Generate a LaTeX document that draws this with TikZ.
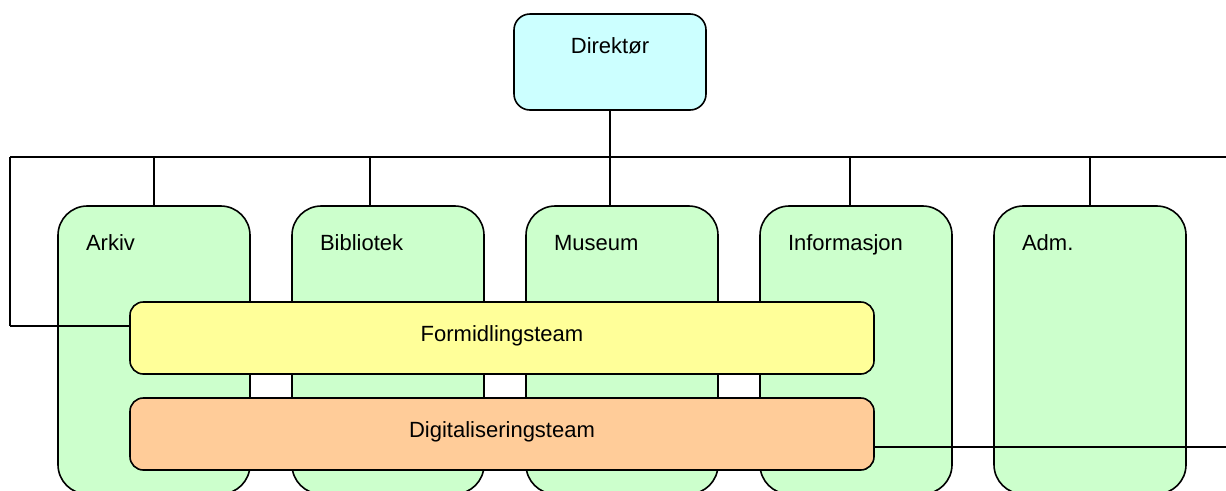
\documentclass[tikz,border=0pt]{standalone}
\usepackage{fontspec}
\setmainfont{Liberation Sans}
\usepackage{tikz}

\definecolor{dircol}{HTML}{CCFFFF}
\definecolor{deptcol}{HTML}{CCFFCC}
\definecolor{formcol}{HTML}{FFFF99}
\definecolor{digicol}{HTML}{FFCC99}

\tikzset{
  box/.style={draw, line width=1.2pt, inner sep=0pt, font=\fontsize{16.5}{19}\selectfont},
  headbox/.style={box, fill=dircol, rounded corners=12pt, minimum width=144pt,
    text height=29.25pt, text depth=42.75pt},
  deptbox/.style={box, fill=deptcol, rounded corners=22pt, inner xsep=21pt,
    text width=102pt, align=left, text height=33pt, text depth=183pt},
  teambox/.style={box, rounded corners=10pt, minimum width=558pt,
    text height=29.25pt, text depth=24.75pt},
  link/.style={line width=1.2pt}
}

\begin{document}
\begin{tikzpicture}[x=0.75pt, y=-0.75pt]
    \useasboundingbox (0, 0) rectangle (1226, 490);

    \node[headbox] (dir) at (610, 62){Direktør};

    \node[deptbox] (arkiv) at (154, 350){Arkiv};
    \node[deptbox] (bibl) at (388, 350){Bibliotek};
    \node[deptbox] (mus) at (622, 350){Museum};
    \node[deptbox] (info) at (856, 350){Informasjon};
    \node[deptbox] (adm) at (1090, 350){Adm.};

    \coordinate (busL) at (10, 157);
    \coordinate (busR) at (1226, 157);
    \coordinate (formL) at (10, 326);
    \coordinate (digiR) at (1226, 447);

    \draw[link] (busL)--(busR);
    \draw[link] (dir.south)--(dir.south |- busL);
    \draw[link] (busL)--(formL);
    \foreach \x/\n in {154/arkiv, 370/bibl, 610/mus, 850/info, 1090/adm}
      \draw[link] (\x, 157)--(\x, 157 |- \n.north);

    \node[teambox, fill=formcol] (form) at (502, 338){Formidlingsteam};
    \node[teambox, fill=digicol] (digi) at (502, 434){Digitaliseringsteam};

    \draw[link] (formL)--(formL -| form.west);
    \draw[link] (digiR -| digi.east)--(digiR);
\end{tikzpicture}
\end{document}
